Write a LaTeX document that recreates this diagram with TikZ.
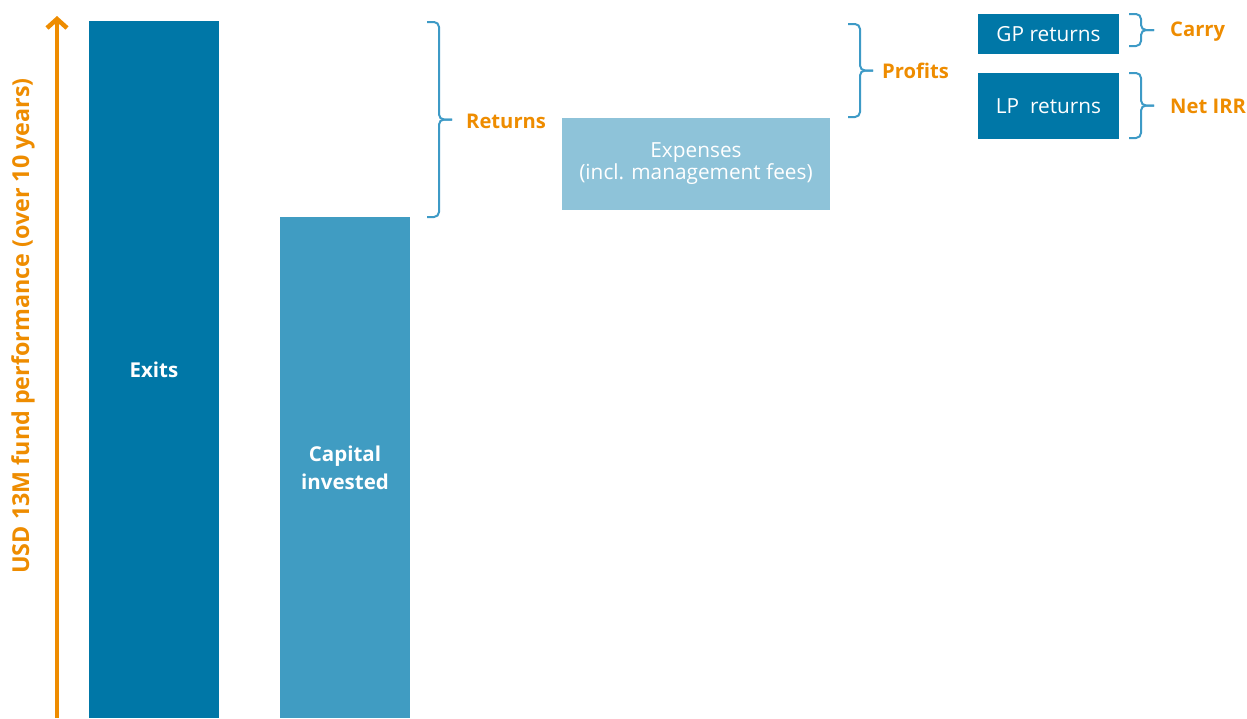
\documentclass[tikz,border=0pt]{standalone}
\usepackage{fontspec}
\setmainfont{Open Sans}
\usetikzlibrary{arrows.meta,calc}
\definecolor{dkblue}{HTML}{0077A7}
\definecolor{mdblue}{HTML}{409CC2}
\definecolor{ltblue}{HTML}{8EC3D9}
\definecolor{brcblue}{HTML}{3D9AC6}
\definecolor{orng}{HTML}{EE8C00}
% right-pointing brace between two coordinates (top, bottom)
\newcommand{\sidebrace}[2]{%
  \draw[brc] (#1) -- ++(12,0) -- ($(#1)!0.5!(#2)+(12,0)$) -- ++(13,0);
  \draw[brc] (#2) -- ++(12,0) -- ($(#1)!0.5!(#2)+(12,0)$) -- ++(13,0);}

\begin{document}
\begin{tikzpicture}[x=1pt,y=-1pt]

  \useasboundingbox (0,0) rectangle (1247,718);

  \tikzset{bar/.style={rectangle, inner sep=0, text=white, align=center,
      font=\fontsize{20.5}{28}\selectfont\bfseries},
    box/.style={rectangle, inner sep=0, fill=dkblue, text=white, align=center,
      font=\fontsize{20.8}{22}\selectfont},
    brc/.style={draw=brcblue, line width=2pt, rounded corners=5pt},
    lbl/.style={anchor=west, inner sep=0, text=orng, font=\fontsize{20.2}{24}\selectfont\bfseries}}

  % bars
  \node[bar, fill=dkblue, minimum width=130pt, minimum height=697pt] (exits) at (154,369.5) {Exits};
  \node[bar, fill=mdblue, minimum width=130pt, minimum height=501pt] (capital) at (345,467.5) {Capital\\invested};

  \node[box, fill=ltblue, minimum width=268pt, minimum height=92pt] (exp) at (696,164) {Expenses\\(incl. management fees)};
  \node[box, minimum width=141pt, minimum height=40pt] (gp) at (1048.5,34) {GP returns};
  \node[box, minimum width=141pt, minimum height=66pt] (lp) at (1048.5,106) {LP\ \ returns};

  % axis
  \coordinate (a0) at (57,718);
  \coordinate (a1) at (57,16);
  \draw[orng, line width=4.5pt, -{Straight Barb[length=9pt,width=20pt]}] (a0) -- (a1);
  \node[rotate=90, text=orng, font=\fontsize{23.3}{28}\selectfont\bfseries] (ylab) at (23,326) {USD 13M fund performance (over 10 years)};

  % braces
  \coordinate (rt) at (427,22);
  \coordinate (rb) at (427,217);
  \coordinate (pt) at (848,24);
  \coordinate (pb) at (848,117);
  \coordinate (ct) at (1129,14);
  \coordinate (cb) at (1129,46);
  \coordinate (nt) at (1129,73);
  \coordinate (nb) at (1129,138);
  \sidebrace{rt}{rb}
  \sidebrace{pt}{pb}
  \sidebrace{ct}{cb}
  \sidebrace{nt}{nb}

  \node[lbl] (ret) at (466,121) {Returns};
  \node[lbl] (prof) at (882,71) {Profits};
  \node[lbl] (carry) at (1170,32) {Carry};
  \node[lbl] (irr) at (1170,106) {Net IRR};

\end{tikzpicture}
\end{document}
